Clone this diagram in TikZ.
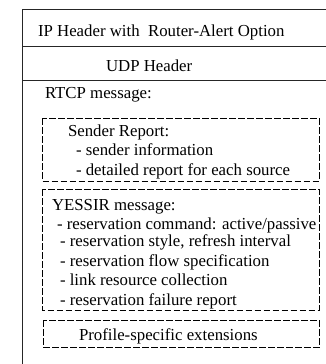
\documentclass[tikz,border=0pt]{standalone}
\usepackage{fontspec}
\setmainfont{Liberation Serif}
\begin{document}
\begin{tikzpicture}[x=1bp,y=-1bp,
  solidline/.style={draw=black!85,line width=1bp},
  dashbox/.style={draw=black,line width=0.9bp,dash pattern=on 6.5bp off 2.5bp},
  txt/.style={anchor=base west,inner sep=0pt,outer sep=0pt,font=\fontsize{16.8bp}{19bp}\selectfont}]
\useasboundingbox (0,0) rectangle (326,364);
% outer frame (open on right and bottom)
\coordinate (tl) at (22,9.5);
\coordinate (tr) at (327,9.5);
\coordinate (bl) at (22,365);
\draw[solidline] (tr) -- (tl) -- (bl);
\coordinate (l1a) at (22,46.5); \coordinate (l1b) at (327,46.5);
\coordinate (l2a) at (22,80);   \coordinate (l2b) at (327,80);
\draw[solidline] (l1a) -- (l1b);
\draw[solidline] (l2a) -- (l2b);
% dashed boxes
\draw[dashbox] (42.3,118.3) rectangle (319.3,181);
\draw[dashbox] (42.3,189.3) rectangle (319.3,310);
\draw[dashbox] (43.3,320) rectangle (319.3,347.3);
% texts
\node[txt] (ip) at (38,36) {IP Header with\ \ Router-Alert Option};
\node[txt] (udp) at (106,71.5) {UDP Header};
\node[txt] (rtcp) at (45,98) {RTCP message:};
\node[txt] (sr) at (68,136.5) {Sender Report:};
\node[txt] (sr1) at (76,155.7) {- sender information};
\node[txt] (sr2) at (76,175) {- detailed report for each source};
\node[txt] (ye) at (52,210) {YESSIR message:};
\node[txt] (ye1) at (57,229) {- reservation command: active/passive};
\node[txt] (ye2) at (60,246.8) {- reservation style, refresh interval};
\node[txt] (ye3) at (60,266.5) {- reservation flow specification};
\node[txt] (ye4) at (60,285.5) {- link resource collection};
\node[txt] (ye5) at (60,305) {- reservation failure report};
\node[txt] (pr) at (79,340) {Profile-specific extensions};
\end{tikzpicture}
\end{document}
